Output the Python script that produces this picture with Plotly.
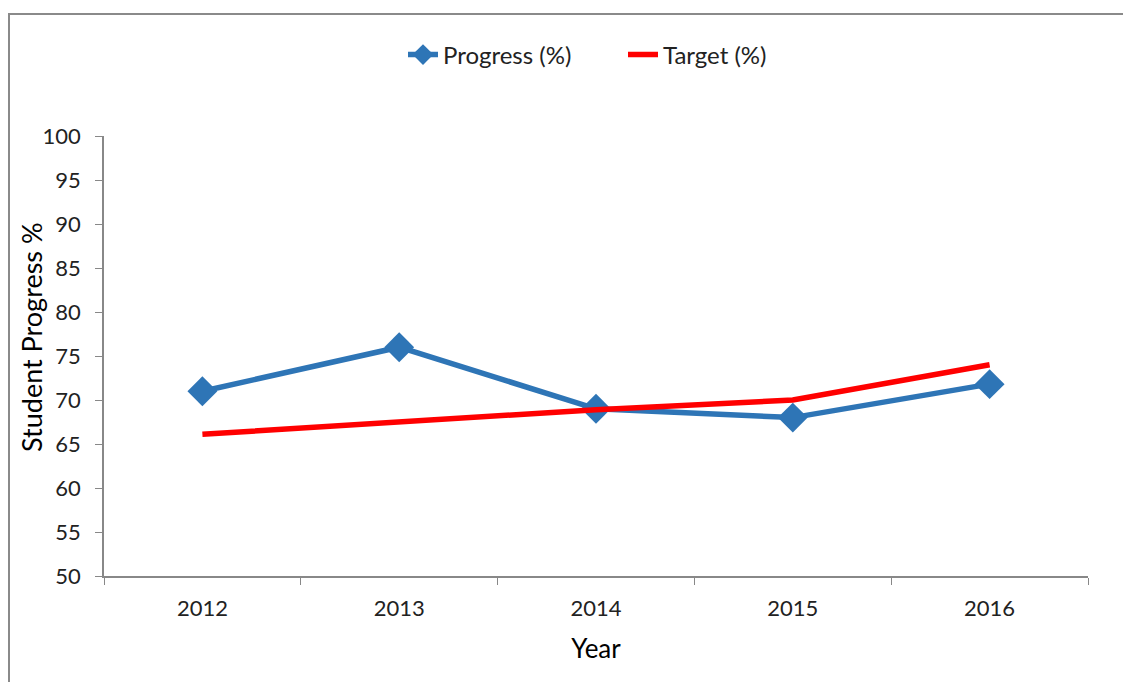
import plotly.graph_objects as go

years = ["2012", "2013", "2014", "2015", "2016"]
progress = [71, 76, 69, 68, 71.8]
target = [66.1, 67.5, 68.9, 70, 74]
y_ticks = list(range(50, 101, 5))

# page has an 8px body margin; figure coordinates = page coordinates - 8
OFF = 8
W, H = 1131 - OFF, 682 - OFF
L, R, T, B = 104 - OFF, 43, 136 - OFF, 106
pw, ph = W - L - R, H - T - B

def px_x(x):
    return (x - OFF - L) / pw

def px_y(y):
    return (H - B - (y - OFF)) / ph

FONT = "Lato"

fig = go.Figure()
fig.add_trace(go.Scatter(
    x=years, y=progress, name="Progress (%)", mode="lines+markers",
    line=dict(color="#2E75B6", width=5.5),
    marker=dict(symbol="diamond", size=23, color="#2E75B6"),
    legend="legend",
))
fig.add_trace(go.Scatter(
    x=years, y=target, name="Target (%)", mode="lines",
    line=dict(color="#FF0000", width=5.5),
    legend="legend2",
))

fig.update_layout(
    width=W, height=H,
    margin=dict(l=L, r=R, t=T, b=B),
    paper_bgcolor="white", plot_bgcolor="white",
    font=dict(family=FONT, size=22, color="#222222"),
    showlegend=True,
    legend=dict(x=px_x(403), xanchor="left", y=px_y(55), yanchor="middle",
                font=dict(size=24), bgcolor="rgba(0,0,0,0)"),
    legend2=dict(x=px_x(623), xanchor="left", y=px_y(55), yanchor="middle",
                 font=dict(size=24), bgcolor="rgba(0,0,0,0)"),
    xaxis=dict(
        type="category", range=[-0.5, 4.5], showgrid=False,
        showline=True, linecolor="#888888", linewidth=1.5,
        ticks="outside", tickson="boundaries", ticklen=7, tickcolor="#888888",
        ticklabelstandoff=12,
        tickfont=dict(size=22), title=dict(text="Year", font=dict(size=26, color="black"), standoff=20),
    ),
    yaxis=dict(
        range=[50, 100], tickvals=y_ticks, showgrid=False, zeroline=False,
        showline=True, linecolor="#888888", linewidth=1.5,
        ticks="outside", ticklen=7, tickcolor="#888888",
        ticklabelstandoff=10,
        tickfont=dict(size=22),
    ),
    annotations=[
        dict(text="Student Progress %", textangle=-90, xref="paper", yref="paper",
             x=px_x(31), y=px_y(337), xanchor="center", yanchor="middle", showarrow=False,
             font=dict(size=27, color="black")),
    ],
    shapes=[
        dict(type="line", xref="paper", yref="paper", x0=px_x(8), x1=px_x(1140), y0=px_y(14), y1=px_y(14),
             line=dict(color="#8a8a8a", width=2)),
        dict(type="line", xref="paper", yref="paper", x0=px_x(9), x1=px_x(9), y0=px_y(14), y1=px_y(690),
             line=dict(color="#8a8a8a", width=2)),
    ],
)

fig.write_html("out.html")
